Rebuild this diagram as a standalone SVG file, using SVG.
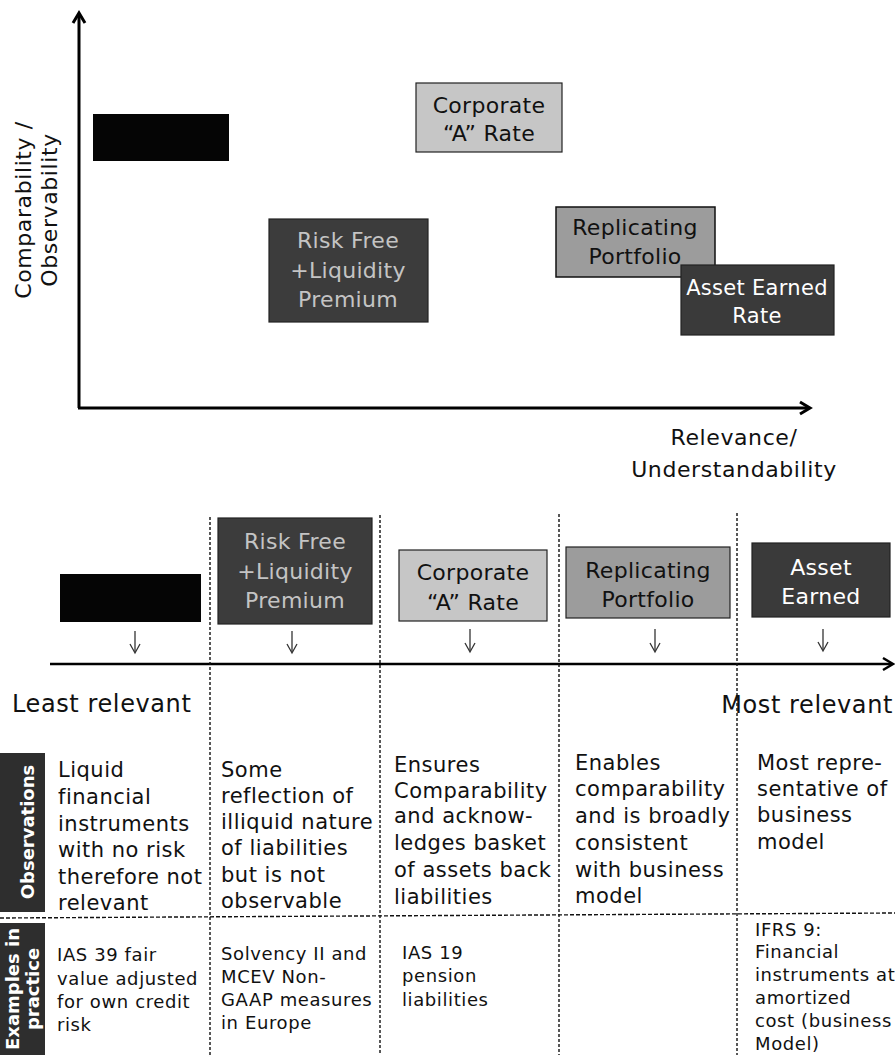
<svg xmlns="http://www.w3.org/2000/svg" width="895" height="1055" viewBox="0 0 895 1055">
<style>
text{font-family:"DejaVu Sans","Liberation Sans",sans-serif;fill:#111}
.ax{font-size:22px;letter-spacing:0.6px}
.bx{font-size:22px;letter-spacing:0.3px;text-anchor:middle}
.big{font-size:24px;letter-spacing:0.6px}
.obs{font-size:21px;letter-spacing:0.5px}
.ex{font-size:18px;letter-spacing:0.6px}
.side{font-size:18px;font-weight:bold;fill:#fff;text-anchor:middle}
.light{fill:#c4c4c4}
.white{fill:#fff}
.axis{stroke:#000;stroke-width:3;fill:none}
.dot{stroke:#111;stroke-width:1.4;stroke-dasharray:3 2;fill:none}
.small{stroke:#333;stroke-width:1.3;fill:none}
</style>

<g id="connectors">
  <line class="axis" x1="79" y1="15" x2="79" y2="408"/>
  <polyline class="axis" points="73,23 79,13 85,23"/>
  <line class="axis" x1="78" y1="408" x2="808" y2="408"/>
  <polyline class="axis" points="800,402 810,408 800,414"/>
  <line stroke="#000" stroke-width="2.5" x1="50" y1="664" x2="891" y2="664"/>
  <polyline stroke="#000" stroke-width="2.5" fill="none" points="883,658 893,664 883,670"/>
  <line class="dot" x1="210" y1="517" x2="210" y2="1055"/>
  <line class="dot" x1="380" y1="515" x2="380" y2="1055"/>
  <line class="dot" x1="559" y1="514" x2="559" y2="1055"/>
  <line class="dot" x1="737" y1="513" x2="737" y2="1055"/>
  <line stroke="#111" stroke-width="1.4" stroke-dasharray="4 2" x1="0" y1="918" x2="895" y2="913"/>
  <g class="small">
    <line x1="135" y1="631" x2="135" y2="652"/><polyline points="130,644 135,653 140,644"/>
    <line x1="292" y1="631" x2="292" y2="652"/><polyline points="287,644 292,653 297,644"/>
    <line x1="470" y1="629" x2="470" y2="651"/><polyline points="465,643 470,652 475,643"/>
    <line x1="655" y1="629" x2="655" y2="651"/><polyline points="650,643 655,652 660,643"/>
    <line x1="823" y1="629" x2="823" y2="650"/><polyline points="818,642 823,651 828,642"/>
  </g>
</g>

<g id="axis-labels">
  <text class="ax" text-anchor="middle" transform="translate(31,210) rotate(-90)">Comparability /</text>
  <text class="ax" text-anchor="middle" transform="translate(57,210) rotate(-90)">Observability</text>
  <text class="ax" x="734" y="445" text-anchor="middle">Relevance/</text>
  <text class="ax" x="734" y="477" text-anchor="middle">Understandability</text>
</g>

<g id="top-black">
  <rect x="93" y="114" width="136" height="47" fill="#050505"/>
</g>
<g id="top-corporate">
  <rect x="416" y="83" width="146" height="69" fill="#c6c6c6" stroke="#222" stroke-width="1.2"/>
  <text class="bx" x="489" y="113">Corporate</text>
  <text class="bx" x="489" y="141">“A” Rate</text>
</g>
<g id="top-riskfree">
  <rect x="269" y="219" width="159" height="103" fill="#3c3c3c" stroke="#222" stroke-width="1.2"/>
  <text class="bx light" x="348" y="248">Risk Free</text>
  <text class="bx light" x="348" y="278">+Liquidity</text>
  <text class="bx light" x="348" y="307">Premium</text>
</g>
<g id="top-replicating">
  <rect x="556" y="207" width="159" height="70" fill="#9c9c9c" stroke="#111" stroke-width="1.5"/>
  <text class="bx" x="635" y="235">Replicating</text>
  <text class="bx" x="635" y="264">Portfolio</text>
</g>
<g id="top-asset">
  <rect x="681" y="265" width="153" height="70" fill="#3a3a3a" stroke="#222" stroke-width="1.2"/>
  <text class="bx white" x="757" y="295" style="font-size:21px">Asset Earned</text>
  <text class="bx white" x="757" y="323" style="font-size:21px">Rate</text>
</g>

<g id="bot-black">
  <rect x="60" y="574" width="141" height="48" fill="#050505"/>
</g>
<g id="bot-riskfree">
  <rect x="218" y="518" width="154" height="106" fill="#3c3c3c" stroke="#222" stroke-width="1.2"/>
  <text class="bx light" x="295" y="549">Risk Free</text>
  <text class="bx light" x="295" y="579">+Liquidity</text>
  <text class="bx light" x="295" y="608">Premium</text>
</g>
<g id="bot-corporate">
  <rect x="399" y="550" width="148" height="71" fill="#c6c6c6" stroke="#222" stroke-width="1.2"/>
  <text class="bx" x="473" y="580">Corporate</text>
  <text class="bx" x="473" y="610">“A” Rate</text>
</g>
<g id="bot-replicating">
  <rect x="566" y="547" width="164" height="71" fill="#9c9c9c" stroke="#222" stroke-width="1.2"/>
  <text class="bx" x="648" y="578">Replicating</text>
  <text class="bx" x="648" y="607">Portfolio</text>
</g>
<g id="bot-asset">
  <rect x="752" y="543" width="138" height="74" fill="#3a3a3a" stroke="#222" stroke-width="1.2"/>
  <text class="bx white" x="821" y="575">Asset</text>
  <text class="bx white" x="821" y="604">Earned</text>
</g>

<g id="scale-labels">
  <text class="big" x="12" y="712">Least relevant</text>
  <text class="big" x="893" y="713" text-anchor="end">Most relevant</text>
</g>

<g id="side-observations">
  <rect x="0" y="753" width="45" height="159" fill="#2e2e2e"/>
  <text class="side" transform="translate(34,832) rotate(-90)">Observations</text>
</g>
<g id="side-examples">
  <rect x="0" y="923" width="45" height="132" fill="#2e2e2e"/>
  <text class="side" transform="translate(19,989) rotate(-90)">Examples in</text>
  <text class="side" transform="translate(39,989) rotate(-90)">practice</text>
</g>

<g id="observations">
  <text class="obs" x="58"><tspan x="58" y="777">Liquid</tspan><tspan x="58" y="804">financial</tspan><tspan x="58" y="831">instruments</tspan><tspan x="58" y="857">with no risk</tspan><tspan x="58" y="884">therefore not</tspan><tspan x="58" y="910">relevant</tspan></text>
  <text class="obs"><tspan x="221" y="777">Some</tspan><tspan x="221" y="803">reflection of</tspan><tspan x="221" y="829">illiquid nature</tspan><tspan x="221" y="855">of liabilities</tspan><tspan x="221" y="882">but is not</tspan><tspan x="221" y="908">observable</tspan></text>
  <text class="obs"><tspan x="394" y="772">Ensures</tspan><tspan x="394" y="798">Comparability</tspan><tspan x="394" y="823">and acknow-</tspan><tspan x="394" y="850">ledges basket</tspan><tspan x="394" y="877">of assets back</tspan><tspan x="394" y="904">liabilities</tspan></text>
  <text class="obs"><tspan x="575" y="770">Enables</tspan><tspan x="575" y="796">comparability</tspan><tspan x="575" y="823">and is broadly</tspan><tspan x="575" y="850">consistent</tspan><tspan x="575" y="877">with business</tspan><tspan x="575" y="903">model</tspan></text>
  <text class="obs"><tspan x="757" y="770">Most repre-</tspan><tspan x="757" y="796">sentative of</tspan><tspan x="757" y="822">business</tspan><tspan x="757" y="849">model</tspan></text>
</g>

<g id="examples">
  <text class="ex"><tspan x="57" y="961">IAS 39 fair</tspan><tspan x="57" y="985">value adjusted</tspan><tspan x="57" y="1008">for own credit</tspan><tspan x="57" y="1031">risk</tspan></text>
  <text class="ex"><tspan x="221" y="960">Solvency II and</tspan><tspan x="221" y="983">MCEV Non-</tspan><tspan x="221" y="1006">GAAP measures</tspan><tspan x="221" y="1029">in Europe</tspan></text>
  <text class="ex"><tspan x="402" y="959">IAS 19</tspan><tspan x="402" y="982">pension</tspan><tspan x="402" y="1006">liabilities</tspan></text>
  <text class="ex"><tspan x="755" y="936">IFRS 9:</tspan><tspan x="755" y="958">Financial</tspan><tspan x="755" y="981">instruments at</tspan><tspan x="755" y="1004">amortized</tspan><tspan x="755" y="1027">cost (business</tspan><tspan x="755" y="1050">Model)</tspan></text>
</g>
</svg>
